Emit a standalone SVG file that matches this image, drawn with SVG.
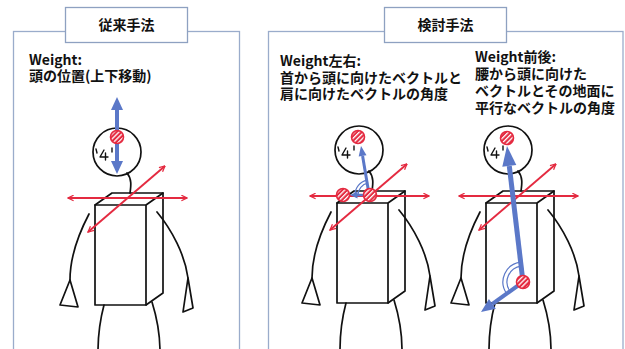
<svg xmlns="http://www.w3.org/2000/svg" xmlns:xlink="http://www.w3.org/1999/xlink" width="625" height="349" viewBox="0 0 625 349">
  <style>
    .frame { fill: none; stroke: #9aaccb; stroke-width: 1.3; }
    .tbox { fill: #fff; stroke: #8ea1c1; stroke-width: 1.3; }
    .title { font-family: "Noto Sans CJK JP", sans-serif; font-size: 14px; font-weight: 700; fill: #111; text-anchor: middle; }
    .lbl { font-family: "Noto Sans CJK JP", sans-serif; font-size: 14px; font-weight: 700; fill: #111; }
    .ln { fill: none; stroke: #111; stroke-width: 1.7; stroke-linejoin: round; stroke-linecap: round; }
    .face { fill: none; stroke: #111; stroke-width: 1.4; stroke-linecap: round; stroke-linejoin: round; }
    .red { fill: none; stroke: #e42a40; stroke-width: 1.9; marker-start: url(#openHead); marker-end: url(#openHead); }
    .blue { fill: none; stroke: #5b78c8; stroke-linecap: butt; }
    .bluehead { fill: #5b78c8; }
    .arc { fill: none; stroke: #5b78c8; stroke-width: 1.2; }
    .dot { fill: url(#hatch); stroke: #e42a40; stroke-width: 1.6; }
  </style>
  <defs>
    <pattern id="hatch" width="3.4" height="3.4" patternUnits="userSpaceOnUse" patternTransform="rotate(-45)">
      <rect width="3.4" height="3.4" fill="#e42a40"/>
      <rect width="3.4" height="1.3" fill="#fff"/>
    </pattern>
    <marker id="openHead" viewBox="0 0 10 10" refX="9" refY="5" markerWidth="7" markerHeight="7" markerUnits="userSpaceOnUse" orient="auto-start-reverse">
      <path d="M1,1 L9,5 L1,9" fill="none" stroke="#e42a40" stroke-width="1.8"/>
    </marker>
    <!-- stick figure with box torso and the two red shoulder axes -->
    <g id="figure">
      <path class="ln" d="M89,214 C78,235 70,258 70,280"/>
      <path class="ln" d="M70,280 L60,305 L78,307 Z"/>
      <path class="ln" d="M157,212 C172,230 185,255 188,278"/>
      <path class="ln" d="M188,278 L183,312 L193,308 Z"/>
      <path class="ln" d="M104,305 C100,320 98,335 98,352"/>
      <path class="ln" d="M152,302 C157,318 160,335 160,352"/>
      <path class="ln" d="M127,173 C132,179 131,186 130,193"/>
      <circle class="ln" cx="117" cy="152" r="24" fill="#fff"/>
      <path class="face" d="M96,149 L97,153 M104,150 L100,157 L108,157 M105.5,153 L105.5,160 M112,148 L112,152"/>
      <path class="ln" fill="#fff" d="M95,205 L112,193 L163,193 L163,293 L146,305 L95,305 Z"/>
      <path class="ln" d="M95,205 H146 V305 M146,205 L163,193"/>
      <path class="red" d="M68,198 H187"/>
      <path class="red" d="M165,166 L88,232"/>
    </g>
  </defs>

  <!-- left panel: conventional method -->
  <g id="panel-conventional">
    <rect class="frame" x="13.5" y="31.5" width="226" height="330"/>
    <rect class="tbox" x="65.5" y="7.5" width="122" height="35"/>
    <text class="title" x="126.5" y="30">従来手法</text>
    <text class="lbl" x="29" y="65">Weight:<tspan x="29" dy="16">頭の位置(上下移動)</tspan></text>
  </g>

  <!-- right panel: proposed method -->
  <g id="panel-proposed">
    <rect class="frame" x="268.5" y="31.5" width="354.5" height="330"/>
    <rect class="tbox" x="384.5" y="7.5" width="122" height="35"/>
    <text class="title" x="445.5" y="30">検討手法</text>
    <text class="lbl" x="280" y="66">Weight左右:<tspan x="280" dy="16.5">首から頭に向けたベクトルと</tspan><tspan x="280" dy="16.5">肩に向けたベクトルの角度</tspan></text>
    <text class="lbl" x="475" y="62">Weight前後:<tspan x="475" dy="17">腰から頭に向けた</tspan><tspan x="475" dy="17">ベクトルとその地面に</tspan><tspan x="475" dy="17">平行なベクトルの角度</tspan></text>
  </g>

  <!-- figure 1: vertical head movement -->
  <g id="fig-vertical">
    <use xlink:href="#figure"/>
    <path class="blue" stroke-width="4" d="M117,108 V163"/>
    <polygon class="bluehead" points="117,97 111,110 123,110"/>
    <polygon class="bluehead" points="117,174 111,161 123,161"/>
    <circle class="dot" cx="117" cy="137" r="6.5"/>
  </g>

  <!-- figure 2: left/right angle at the neck -->
  <g id="fig-lateral">
    <use xlink:href="#figure" transform="translate(242,-2)"/>
    <path class="blue" stroke-width="3" d="M369,194 L362.6,156"/>
    <polygon class="bluehead" points="361,146 366.5,155.2 358.7,156.6"/>
    <path class="blue" stroke-width="2.5" d="M369,195 H357"/>
    <polygon class="bluehead" points="350,195 357.5,191.5 357.5,198.5"/>
    <path class="arc" d="M367.8,183.2 A12,12 0 0 0 358,195"/>
    <path class="arc" d="M367.1,180.2 A15,15 0 0 0 355,195"/>
    <circle class="dot" cx="343" cy="195" r="6.5"/>
    <circle class="dot" cx="370" cy="195" r="6.5"/>
    <circle class="dot" cx="358" cy="137" r="6.5"/>
  </g>

  <!-- figure 3: forward/backward angle at the waist -->
  <g id="fig-sagittal">
    <use xlink:href="#figure" transform="translate(391,-2)"/>
    <path class="blue" stroke-width="5" d="M523,282 L509.3,166"/>
    <polygon class="bluehead" points="507,146 516.3,165.1 502.3,166.7"/>
    <path class="blue" stroke-width="4" d="M523,282 L492.4,303.9"/>
    <polygon class="bluehead" points="481,312 495.9,308.8 488.9,299"/>
    <path class="arc" d="M521.2,266.1 A16,16 0 0 0 510,291.3"/>
    <path class="arc" d="M520.8,262.1 A20,20 0 0 0 506.7,293.6"/>
    <circle class="dot" cx="523" cy="282" r="6.5"/>
    <circle class="dot" cx="507" cy="138" r="6.5"/>
  </g>
</svg>
